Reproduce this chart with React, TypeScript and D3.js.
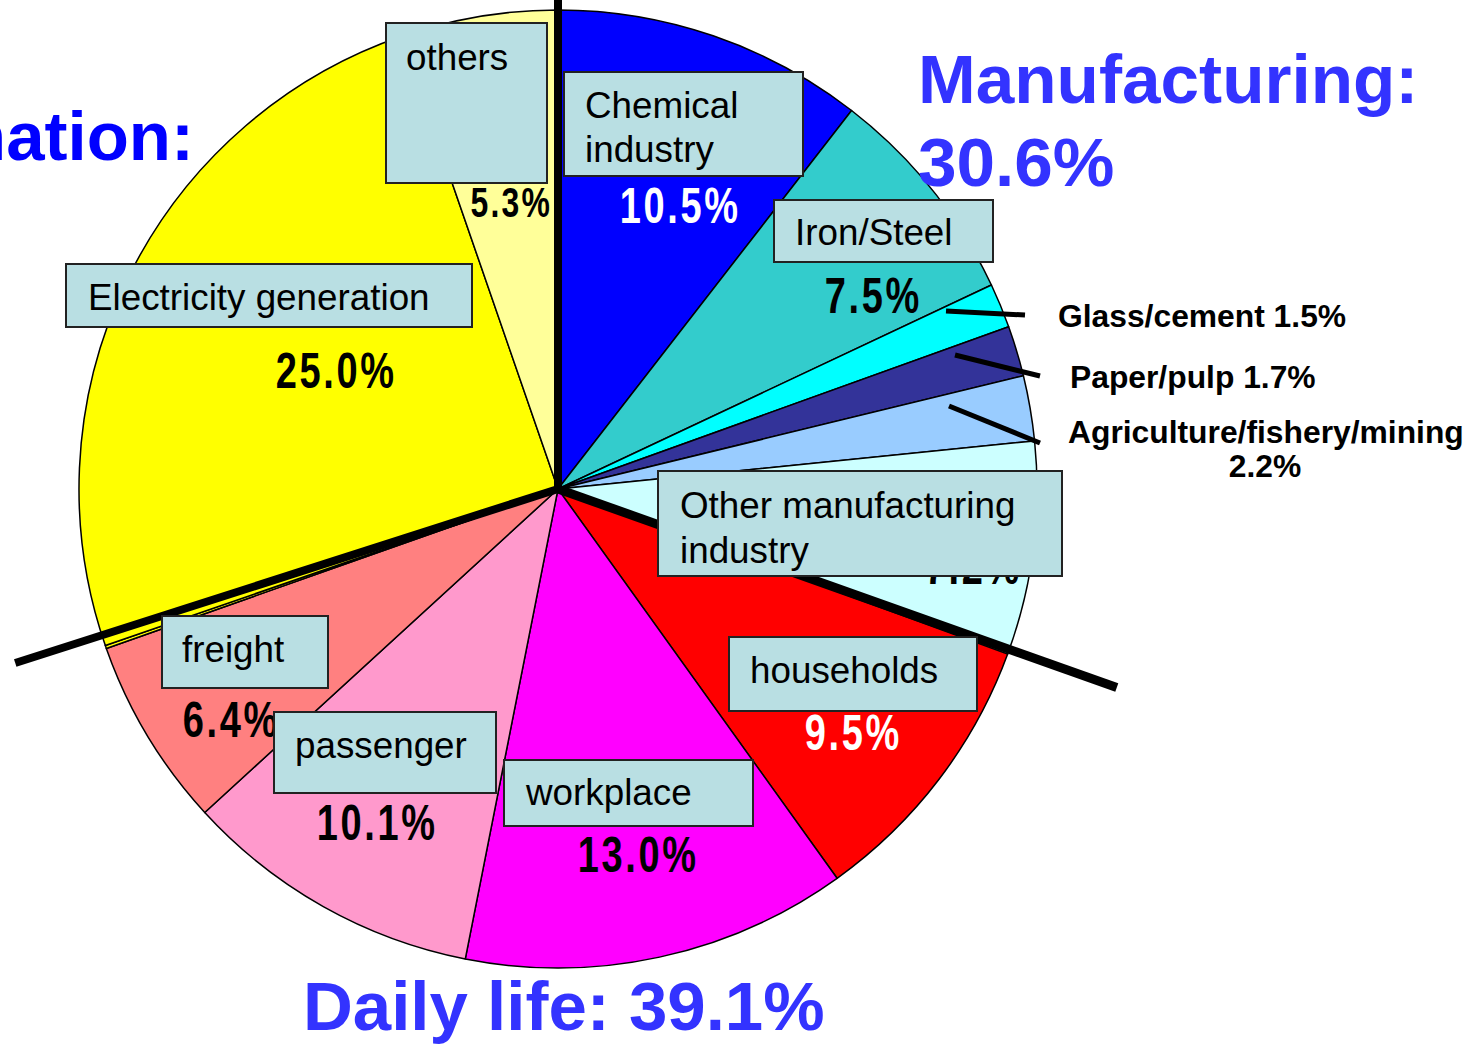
import React from "react";
import * as d3 from "d3";

// ---- data ----
const categories = [
  "Chemical industry",
  "Iron/Steel",
  "Glass/cement",
  "Paper/pulp",
  "Agriculture/fishery/mining",
  "Other manufacturing industry",
  "households",
  "workplace",
  "passenger",
  "freight",
  "other transport",
  "Electricity generation",
  "others",
];
const values = [10.5, 7.5, 1.5, 1.7, 2.2, 7.2, 9.5, 13.0, 10.1, 6.4, 0.1, 25.0, 5.3];
const sliceColors = [
  "#0000FF", "#33CCCC", "#00FFFF", "#333399", "#99CCFF", "#CCFFFF",
  "#FF0000", "#FF00FF", "#FF99CC", "#FF8080", "#FFFF00", "#FFFF00", "#FFFF99",
];
const groupNames = ["Manufacturing", "Daily life", "Energy transformation"];
const groupShares = [30.6, 39.1, 30.3];

// ---- layout ----
const W = 1481, H = 1044;
const cx = 558, cy = 489, R = 479;

type Box = { i: number; x: number; y: number; w: number; h: number; lines: string[]; tx: number; by: number[] };
const boxes: Box[] = [
  { i: 12, x: 386, y: 23, w: 161, h: 160, lines: ["others"], tx: 406, by: [70] },
  { i: 0, x: 564, y: 72, w: 239, h: 104, lines: ["Chemical", "industry"], tx: 585, by: [118, 162] },
  { i: 1, x: 774, y: 200, w: 219, h: 62, lines: ["Iron/Steel"], tx: 795, by: [245] },
  { i: 11, x: 66, y: 264, w: 406, h: 63, lines: ["Electricity generation"], tx: 88, by: [310] },
  { i: 5, x: 658, y: 471, w: 404, h: 105, lines: ["Other manufacturing", "industry"], tx: 680, by: [518, 563] },
  { i: 6, x: 729, y: 637, w: 248, h: 74, lines: ["households"], tx: 750, by: [683] },
  { i: 7, x: 504, y: 760, w: 249, h: 66, lines: ["workplace"], tx: 526, by: [805] },
  { i: 8, x: 274, y: 712, w: 222, h: 81, lines: ["passenger"], tx: 295, by: [758] },
  { i: 9, x: 162, y: 616, w: 166, h: 72, lines: ["freight"], tx: 182, by: [662] },
];

type Pct = { i: number; x: number; y: number; size: number; color: string };
const pctLabels: Pct[] = [
  { i: 0, x: 679, y: 223, size: 50, color: "#FFFFFF" },
  { i: 1, x: 872, y: 313, size: 50, color: "#000000" },
  { i: 5, x: 972, y: 584, size: 50, color: "#000000" },
  { i: 6, x: 852, y: 750, size: 50, color: "#FFFFFF" },
  { i: 7, x: 637, y: 872, size: 50, color: "#000000" },
  { i: 8, x: 376, y: 840, size: 50, color: "#000000" },
  { i: 9, x: 230, y: 737, size: 50, color: "#000000" },
  { i: 11, x: 335, y: 388, size: 50, color: "#000000" },
  { i: 12, x: 510, y: 217, size: 42, color: "#000000" },
];

type Outside = { i: number; x1: number; y1: number; x2: number; y2: number; tx: number; ty: number; twoLine?: boolean };
const outside: Outside[] = [
  { i: 2, x1: 946, y1: 311, x2: 1025, y2: 315, tx: 1058, ty: 327 },
  { i: 3, x1: 955, y1: 355, x2: 1040, y2: 376, tx: 1070, ty: 388 },
  { i: 4, x1: 949, y1: 406, x2: 1040, y2: 443, tx: 1068, ty: 443, twoLine: true },
];

// heavy divider lines: one per group boundary
const dividerLen = [R + 12, 593, 570];
const dividerOffsetDeg = [0, -0.6, 1.3];
const dividerWidth = [8, 9, 8];

const fmt = (v: number) => v.toFixed(1) + "%";

export default function App() {
  const pie = d3.pie<number>().sort(null).value((d) => d).startAngle(0).endAngle(2 * Math.PI);
  const arcs = pie(values);
  const arc = d3.arc<d3.PieArcDatum<number>>().innerRadius(0).outerRadius(R);

  const total = d3.sum(values);
  const angleScale = d3.scaleLinear().domain([0, total]).range([0, 2 * Math.PI]);
  const cum = [0, groupShares[0], groupShares[0] + groupShares[1]];

  const sans = "'Liberation Sans', Arial, Helvetica, sans-serif";

  return (
    <svg
      width={W}
      height={H}
      viewBox={`0 0 ${W} ${H}`}
      style={{ position: "absolute", left: 0, top: 0, background: "#FFFFFF" }}
    >
      <rect x={0} y={0} width={W} height={H} fill="#FFFFFF" />
      <g transform={`translate(${cx},${cy})`}>
        {arcs.map((a, k) => (
          <path key={k} d={arc(a) || ""} fill={sliceColors[k]} stroke="#000" strokeWidth={1.5} strokeLinejoin="round" />
        ))}
      </g>

      {/* group dividers */}
      {cum.map((c, k) => {
        const ang = angleScale(c) + (dividerOffsetDeg[k] * Math.PI) / 180;
        const len = dividerLen[k];
        const x2 = cx + len * Math.sin(ang);
        const y2 = cy - len * Math.cos(ang);
        return (
          <line key={groupNames[k]} x1={cx} y1={cy} x2={x2} y2={y2} stroke="#000" strokeWidth={dividerWidth[k]} />
        );
      })}

      {/* leader lines & outside labels */}
      {outside.map((o) => (
        <g key={o.i}>
          <line x1={o.x1} y1={o.y1} x2={o.x2} y2={o.y2} stroke="#000" strokeWidth={5} />
          {o.twoLine ? (
            <text fontFamily={sans} fontWeight="bold" fontSize={31.8} fill="#000">
              <tspan x={o.tx} y={o.ty}>{categories[o.i]}</tspan>
              <tspan x={o.tx + 197} y={o.ty + 34} textAnchor="middle">{fmt(values[o.i])}</tspan>
            </text>
          ) : (
            <text x={o.tx} y={o.ty} fontFamily={sans} fontWeight="bold" fontSize={31.8} fill="#000">
              {categories[o.i] + " " + fmt(values[o.i])}
            </text>
          )}
        </g>
      ))}

      {/* percentage labels (narrow, spaced) */}
      {pctLabels.map((p) => (
        <text
          key={p.i}
          transform={`translate(${p.x + 1.3},${p.y}) scale(0.76,1)`}
          textAnchor="middle"
          fontFamily={sans}
          fontWeight="bold"
          fontSize={p.size}
          letterSpacing={3.5 * (p.size / 50)}
          fill={p.color}
        >
          {fmt(values[p.i])}
        </text>
      ))}

      {/* category boxes */}
      {boxes.map((b) => (
        <g key={b.i}>
          <rect x={b.x} y={b.y} width={b.w} height={b.h} fill="#B9DFE3" stroke="#222" strokeWidth={2} />
          {b.lines.map((ln, j) => (
            <text key={j} x={b.tx} y={b.by[j]} fontFamily={sans} fontSize={36.8} fill="#000">
              {ln}
            </text>
          ))}
        </g>
      ))}

      {/* group titles */}
      <text x={918} y={103} fontFamily={sans} fontWeight="bold" fontSize={69.3} fill="#3333FF">
        {groupNames[0] + ":"}
      </text>
      <text x={918} y={186} fontFamily={sans} fontWeight="bold" fontSize={69.3} fill="#3333FF">
        {fmt(groupShares[0])}
      </text>
      <text x={303} y={1030} fontFamily={sans} fontWeight="bold" fontSize={69} fill="#3333FF">
        {groupNames[1] + ": " + fmt(groupShares[1])}
      </text>
      <text x={194} y={160} textAnchor="end" fontFamily={sans} fontWeight="bold" fontSize={69} fill="#0000FF">
        {groupNames[2] + ":"}
      </text>
    </svg>
  );
}
